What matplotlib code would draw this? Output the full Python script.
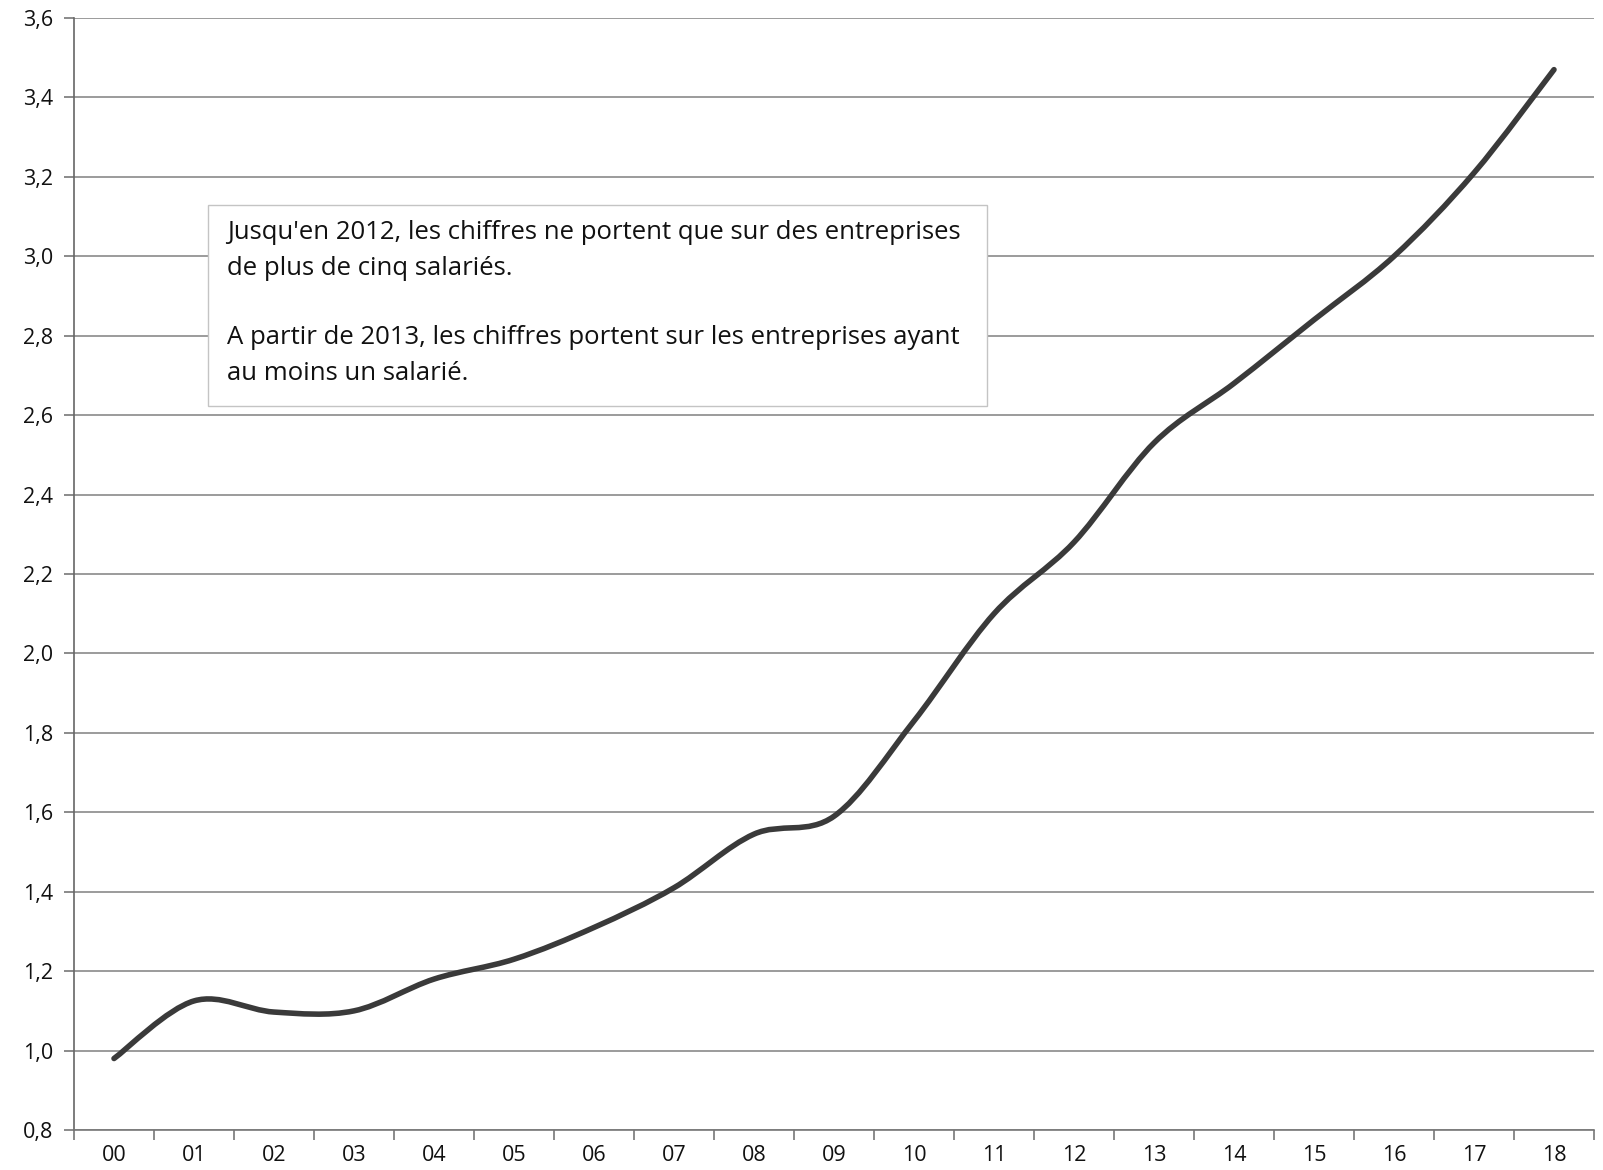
import numpy as np
import matplotlib
matplotlib.use("Agg")
import matplotlib.pyplot as plt
from matplotlib.path import Path
from matplotlib.patches import PathPatch, Rectangle

plt.rcParams['font.family'] = ['Open Sans', 'DejaVu Sans']

years = ['00', '01', '02', '03', '04', '05', '06', '07', '08', '09',
         '10', '11', '12', '13', '14', '15', '16', '17', '18']
values = [0.98, 1.125, 1.097, 1.10, 1.18, 1.23, 1.31, 1.41, 1.545, 1.59,
          1.83, 2.10, 2.28, 2.53, 2.68, 2.84, 3.00, 3.21, 3.47]
y_ticks = [0.8, 1.0, 1.2, 1.4, 1.6, 1.8, 2.0, 2.2, 2.4, 2.6, 2.8, 3.0, 3.2, 3.4, 3.6]
note_lines = ["Jusqu'en 2012, les chiffres ne portent que sur des entreprises",
              "de plus de cinq salariés.",
              "A partir de 2013, les chiffres portent sur les entreprises ayant",
              "au moins un salarié."]

W, H = 1603, 1170
fig = plt.figure(figsize=(W / 100, H / 100), dpi=100)
ax = fig.add_axes([74 / W, 1 - 1130 / H, (1594 - 74) / W, (1130 - 18) / H])

x = np.arange(len(years))
y = np.array(values)

# smoothed line (Excel style bezier through the points)
verts = [(x[0], y[0])]
codes = [Path.MOVETO]
n = len(x)
for i in range(n - 1):
    p0 = np.array([x[max(i - 1, 0)], y[max(i - 1, 0)]])
    p1 = np.array([x[i], y[i]])
    p2 = np.array([x[i + 1], y[i + 1]])
    p3 = np.array([x[min(i + 2, n - 1)], y[min(i + 2, n - 1)]])
    c1 = p1 + (p2 - p0) / 6
    c2 = p2 - (p3 - p1) / 6
    verts += [tuple(c1), tuple(c2), tuple(p2)]
    codes += [Path.CURVE4] * 3
ax.add_patch(PathPatch(Path(verts, codes), facecolor='none', edgecolor='#3a3a3a',
                       lw=4.0, capstyle='round', zorder=4))

ax.set_xlim(-0.5, len(years) - 0.5)
ax.set_ylim(0.8, 3.6)
ax.set_yticks(y_ticks)
ax.set_yticklabels([('%.1f' % v).replace('.', ',') for v in y_ticks])
ax.set_xticks(x)
ax.set_xticklabels(years)
ax.set_xticks(np.arange(-0.5, len(years), 1), minor=True)
ax.tick_params(axis='x', which='major', length=0, pad=11, labelsize=15.5, colors='#111111')
ax.tick_params(axis='x', which='minor', length=7, width=1.2, direction='out', color='#777777')
ax.tick_params(axis='y', length=7, width=1.2, direction='out', color='#777777',
               pad=8, labelsize=15.5, labelcolor='#111111')

ax.grid(axis='y', color='#8a8a8a', lw=1.2, zorder=0)
ax.set_axisbelow(True)
for s in ['top', 'right']:
    ax.spines[s].set_visible(False)
ax.spines['left'].set_color('#666666')
ax.spines['left'].set_linewidth(1.2)
ax.spines['bottom'].set_color('#777777')
ax.spines['bottom'].set_linewidth(1.2)

# note box
ax.add_patch(Rectangle((1.17, 2.623), 10.91 - 1.17, 3.13 - 2.623, facecolor='white',
                       edgecolor='#c4c4c4', lw=1.0, zorder=3))
baselines = [3.044, 2.953, 2.779, 2.689]
for txt, yb in zip(note_lines, baselines):
    ax.text(1.41, yb, txt, fontsize=18.5, color='#111111', va='baseline', ha='left', zorder=5)

fig.savefig('out.png', dpi=100, facecolor='white')
